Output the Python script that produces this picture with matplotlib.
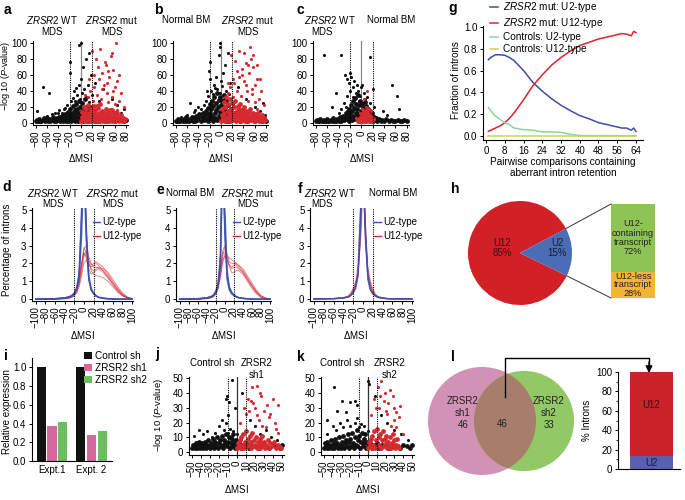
import matplotlib.pyplot as plt
import numpy as np
from matplotlib.lines import Line2D
from matplotlib.patches import Circle

# ---------------- data ----------------
# volcano plots: (delta MSI, -log10 P); *_band = the dense cloud near the x axis
a_black = [(-60, 9), (-52, 11), (-45, 13), (-38, 16), (-33, 12), (-28, 19), (-24, 23), (-18, 28), (-14, 31),
           (-10, 27), (-6, 35), (-2, 30), (2, 38), (6, 42), (10, 33), (14, 26), (-12, 40), (-4, 48), (-68, 45),
           (-57, 38), (-78, 15), (-20, 62), (-20, 76), (-3, 98), (1, 100), (4, 70), (9, 80), (15, 88), (18, 60),
           (25, 50), (40, 42), (55, 30), (65, 22), (72, 12), (77, 18), (60, 14), (48, 10), (-40, 12), (-30, 17),
           (-8, 44), (0, 55), (12, 48), (20, 35), (32, 28), (70, 8), (75, 5), (62, 6), (78, 3)]
a_black_band = [(-80, 2), (-78, 4), (-76, 2), (-74, 5), (-72, 3), (-70, 2), (-68, 4), (-66, 6), (-64, 2), (-62, 4),
                (-60, 6), (-58, 3), (-56, 5), (-54, 2), (-52, 4), (-50, 7), (-48, 3), (-46, 5), (-44, 2), (-42, 6),
                (-40, 4), (-38, 8), (-37, 2), (-35, 5), (-33, 9), (-32, 3), (-30, 6), (-28, 11), (-27, 3), (-26, 8),
                (-24, 5), (-23, 14), (-22, 2), (-21, 10), (-20, 6), (-19, 17), (-18, 3), (-17, 8), (-16, 13),
                (-15, 4), (-14, 21), (-13, 10), (-12, 6), (-11, 16), (-10, 2), (-9, 12), (-8, 24), (-7, 7),
                (-6, 18), (-5, 3), (-4, 13), (-3, 28), (-2, 8), (-1, 20), (0, 5), (1, 14), (2, 25), (3, 10), (4, 3),
                (5, 18), (6, 7), (7, 30), (8, 12), (9, 4), (10, 20), (11, 9), (12, 15), (13, 3), (14, 11), (15, 6),
                (16, 20), (18, 9), (20, 4), (22, 12), (24, 6), (26, 3), (29, 8), (33, 3), (38, 5), (45, 2), (52, 4),
                (60, 3), (68, 5), (76, 2), (80, 4)]
a_red = [(12, 32), (17, 40), (24, 45), (29, 35), (32, 55), (36, 30), (37, 62), (41, 48), (44, 72), (46, 38),
         (48, 26), (50, 58), (53, 84), (56, 33), (57, 66), (61, 45), (65, 52), (68, 28), (72, 38), (20, 90),
         (27, 80), (35, 93), (43, 76), (49, 65), (55, 88), (62, 100), (30, 70), (38, 42), (14, 55), (8, 35),
         (23, 60), (47, 50), (58, 40), (68, 60), (21, 28), (28, 22), (52, 18), (60, 24), (76, 20), (64, 16)]
a_red_band = [(1, 2), (2, 7), (3, 14), (4, 4), (5, 9), (6, 20), (7, 3), (8, 12), (9, 6), (10, 17), (11, 2), (12, 9),
              (13, 22), (14, 5), (15, 13), (16, 3), (17, 8), (18, 18), (19, 11), (20, 3), (21, 6), (22, 14),
              (23, 21), (24, 4), (25, 9), (26, 16), (27, 2), (28, 11), (29, 6), (30, 19), (31, 3), (32, 13),
              (33, 8), (34, 24), (35, 2), (36, 10), (37, 5), (38, 15), (39, 3), (40, 9), (42, 12), (43, 2),
              (44, 18), (45, 6), (46, 10), (47, 3), (48, 14), (50, 7), (51, 2), (52, 11), (54, 5), (55, 16),
              (56, 3), (58, 8), (59, 12), (60, 3), (62, 9), (64, 4), (65, 13), (66, 6), (68, 2), (69, 8), (70, 4),
              (72, 10), (73, 2), (75, 6), (77, 3), (79, 5)]

b_black = [(-60, 10), (-55, 25), (-48, 14), (-40, 20), (-35, 18), (-30, 22), (-26, 28), (-22, 34), (-18, 40),
           (-14, 36), (-10, 44), (-6, 42), (-2, 38), (2, 46), (6, 30), (10, 40), (-20, 55), (-21, 65), (-19, 76),
           (-3, 85), (-2, 95), (-1, 100), (4, 62), (8, 72), (12, 88), (-8, 58), (16, 50), (30, 45), (45, 30),
           (60, 20), (70, 15), (75, 25), (78, 10), (-70, 8), (-45, 16), (-25, 40), (-12, 48), (0, 52), (14, 36),
           (22, 24), (66, 6), (72, 4), (79, 6)]
b_black_band = [(-80, 3), (-78, 2), (-76, 5), (-74, 3), (-72, 2), (-70, 4), (-68, 3), (-66, 5), (-64, 2), (-62, 7),
                (-60, 3), (-58, 5), (-56, 2), (-54, 4), (-52, 8), (-50, 3), (-48, 6), (-46, 2), (-44, 9), (-42, 4),
                (-40, 6), (-38, 11), (-36, 3), (-34, 7), (-32, 13), (-30, 4), (-29, 9), (-27, 15), (-26, 5),
                (-24, 11), (-23, 19), (-22, 3), (-21, 8), (-20, 24), (-19, 13), (-18, 5), (-17, 17), (-16, 28),
                (-15, 9), (-14, 3), (-13, 21), (-12, 33), (-11, 12), (-10, 6), (-9, 25), (-8, 16), (-7, 37),
                (-6, 4), (-5, 20), (-4, 29), (-3, 9), (-2, 14), (-1, 32), (0, 6), (1, 22), (2, 12), (3, 27), (4, 4),
                (5, 16), (6, 35), (7, 9), (8, 20), (9, 3), (10, 28), (11, 13), (12, 7), (13, 23), (14, 3), (15, 15),
                (16, 9), (18, 18), (19, 4), (21, 10), (23, 6), (25, 13), (28, 4), (31, 8), (35, 3), (40, 6),
                (46, 3), (53, 5), (60, 2), (67, 4), (74, 3), (80, 2)]
b_red = [(12, 38), (17, 45), (24, 50), (29, 40), (32, 58), (36, 34), (37, 68), (41, 52), (44, 75), (46, 40),
         (50, 62), (53, 80), (56, 36), (57, 70), (61, 48), (65, 55), (68, 30), (72, 40), (18, 85), (25, 78),
         (33, 90), (42, 88), (52, 95), (58, 85), (48, 72), (38, 60), (28, 65), (64, 72), (70, 55), (22, 55),
         (12, 50), (45, 48), (55, 42), (21, 33), (48, 28), (60, 26), (76, 22), (64, 17)]
b_red_band = [(1, 3), (2, 10), (3, 18), (4, 5), (5, 26), (6, 12), (7, 3), (8, 20), (9, 8), (10, 33), (11, 4),
              (12, 15), (13, 24), (14, 7), (15, 12), (16, 30), (17, 3), (18, 17), (19, 9), (20, 25), (21, 4),
              (22, 13), (23, 20), (24, 6), (25, 10), (26, 28), (27, 3), (28, 15), (29, 8), (30, 21), (31, 4),
              (32, 12), (33, 18), (34, 6), (35, 24), (36, 3), (37, 10), (38, 16), (39, 5), (40, 13), (42, 20),
              (43, 3), (44, 9), (45, 15), (46, 5), (47, 11), (48, 3), (50, 14), (51, 7), (52, 18), (54, 4),
              (55, 10), (56, 6), (58, 13), (59, 3), (60, 8), (62, 11), (64, 4), (65, 7), (66, 12), (68, 3), (69, 8),
              (71, 5), (73, 10), (75, 3), (77, 6), (79, 4)]

c_black = [(-30, 25), (-25, 34), (-20, 40), (-15, 45), (-12, 52), (-8, 48), (-5, 40), (-18, 58), (-20, 62),
           (-22, 50), (0, 45), (5, 38), (10, 32), (15, 25), (22, 20), (-35, 18), (-40, 12), (-65, 85), (-36, 85),
           (-29, 60), (-25, 55), (15, 83), (20, 42), (2, 48), (54, 48), (62, 34), (66, 17), (-45, 38), (-52, 20),
           (38, 15), (45, 10), (-10, 38), (-14, 32), (-2, 34), (6, 30), (-4, 28), (-27, 20)]
c_black_band = [(-80, 2), (-78, 4), (-76, 3), (-74, 2), (-72, 5), (-70, 3), (-68, 2), (-66, 4), (-64, 3), (-62, 2),
                (-60, 5), (-58, 3), (-56, 2), (-54, 4), (-52, 3), (-50, 6), (-48, 2), (-46, 4), (-44, 3), (-42, 5),
                (-40, 2), (-38, 7), (-36, 3), (-34, 5), (-32, 9), (-30, 4), (-28, 7), (-27, 12), (-25, 5), (-24, 15),
                (-23, 9), (-22, 3), (-21, 18), (-20, 7), (-19, 12), (-18, 22), (-17, 4), (-16, 15), (-15, 27),
                (-14, 9), (-13, 19), (-12, 5), (-11, 31), (-10, 13), (-9, 24), (-8, 8), (-7, 17), (-6, 35),
                (-5, 11), (-4, 22), (-3, 4), (-2, 28), (-1, 15), (0, 8), (1, 24), (2, 12), (3, 19), (4, 5), (5, 16),
                (6, 26), (7, 9), (8, 14), (9, 21), (10, 4), (11, 12), (12, 18), (13, 7), (14, 10), (15, 15), (16, 4),
                (17, 9), (18, 12), (19, 6), (20, 3), (22, 8), (24, 4), (26, 6), (28, 3), (31, 5), (34, 2), (37, 4),
                (40, 3), (44, 5), (48, 2), (52, 4), (56, 3), (60, 2), (64, 4), (68, 3), (72, 2), (76, 4), (80, 3)]
c_red = [(5, 30), (10, 40), (-10, 6), (1, 18), (9, 20), (17, 15), (22, 5), (-3, 12)]
c_red_band = [(-6, 2), (-4, 5), (-2, 3), (0, 8), (1, 2), (2, 6), (3, 11), (4, 3), (5, 7), (6, 4), (7, 9), (8, 2),
              (9, 6), (10, 12), (11, 4), (12, 7), (13, 10), (14, 3), (15, 6), (16, 9), (17, 3), (18, 6), (19, 2),
              (20, 5), (4, 15), (8, 14), (12, 17)]

j_black = [(-48, 11), (-42, 15), (-38, 12), (-33, 14), (-28, 10), (-24, 13), (-20, 18), (-17, 22), (-14, 15),
           (-12, 20), (-10, 13), (-8, 16), (-6, 11), (-4, 14), (0, 12), (4, 10), (-12, 36), (-11, 38), (-9, 34),
           (-5, 49), (-10, 25), (6, 40), (14, 22), (20, 18), (25, 12), (32, 15), (38, 10), (44, 8), (-2, 30)]
j_black_band = [(-50, 3), (-49, 5), (-48, 4), (-47, 3), (-46, 6), (-45, 4), (-44, 3), (-43, 5), (-42, 7), (-41, 3),
                (-40, 4), (-39, 6), (-38, 3), (-37, 5), (-36, 4), (-35, 7), (-34, 3), (-33, 5), (-32, 8), (-31, 4),
                (-30, 3), (-29, 6), (-28, 4), (-27, 9), (-26, 3), (-25, 5), (-24, 7), (-23, 4), (-22, 10), (-21, 3),
                (-20, 6), (-19, 8), (-18, 4), (-17, 11), (-16, 5), (-15, 3), (-14, 8), (-13, 6), (-12, 12), (-11, 4),
                (-10, 7), (-9, 10), (-8, 3), (-7, 6), (-6, 9), (-5, 4), (-4, 12), (-3, 6), (-2, 3), (-1, 8), (0, 5),
                (2, 6), (4, 3), (6, 5), (8, 4), (10, 6), (13, 3), (16, 5), (20, 4), (24, 3), (28, 5), (32, 4),
                (36, 3), (40, 5), (44, 4), (48, 3), (50, 5)]
j_red = [(13, 28), (18, 33), (22, 25), (25, 40), (30, 28), (35, 24), (42, 20), (3, 20), (8, 30), (12, 36),
         (17, 44), (22, 45), (27, 38), (33, 32), (40, 36), (45, 32), (10, 26), (15, 35), (20, 30), (24, 22),
         (28, 18), (37, 26), (43, 16), (32, 17), (46, 13)]
j_red_band = [(0, 3), (1, 6), (2, 4), (3, 8), (4, 3), (5, 10), (6, 5), (7, 12), (8, 3), (9, 7), (10, 14), (11, 4),
              (12, 9), (13, 5), (14, 11), (15, 3), (16, 7), (17, 13), (18, 4), (19, 8), (20, 5), (21, 10), (22, 3),
              (23, 7), (24, 4), (25, 9), (26, 3), (27, 6), (28, 11), (29, 4), (30, 7), (31, 3), (32, 5), (34, 8),
              (35, 3), (37, 6), (39, 4), (41, 7), (43, 3), (45, 5), (47, 4), (49, 3)]

k_black = [(-46, 12), (-40, 18), (-36, 15), (-32, 20), (-28, 17), (-24, 22), (-20, 18), (-15, 20), (-12, 23),
           (-10, 17), (-8, 19), (-4, 18), (0, 14), (-38, 44), (-47, 22), (-35, 28), (-30, 35), (-25, 27),
           (-15, 35), (-12, 32), (-20, 34), (0, 48), (1, 46), (8, 38), (15, 25), (22, 20), (30, 15), (38, 12),
           (45, 8)]
k_black_band = [(-50, 3), (-49, 6), (-48, 4), (-47, 3), (-46, 7), (-45, 4), (-44, 3), (-43, 5), (-42, 8), (-41, 3),
                (-40, 5), (-39, 6), (-38, 3), (-37, 9), (-36, 4), (-35, 6), (-34, 3), (-33, 10), (-32, 5), (-31, 3),
                (-30, 7), (-29, 4), (-28, 11), (-27, 3), (-26, 6), (-25, 8), (-24, 4), (-23, 12), (-22, 3), (-21, 7),
                (-20, 9), (-19, 4), (-18, 13), (-17, 6), (-16, 3), (-15, 10), (-14, 5), (-13, 15), (-12, 4),
                (-11, 8), (-10, 11), (-9, 3), (-8, 7), (-7, 13), (-6, 4), (-5, 9), (-4, 6), (-3, 12), (-2, 3),
                (-1, 7), (0, 4), (2, 6), (4, 3), (6, 5), (8, 4), (10, 6), (13, 3), (16, 5), (20, 4), (24, 3), (28, 5),
                (32, 4), (36, 3), (40, 5), (44, 4), (48, 3), (50, 5)]
k_red = [(13, 30), (18, 35), (22, 26), (25, 42), (30, 30), (35, 24), (3, 25), (7, 36), (11, 44), (15, 48),
         (19, 40), (23, 33), (28, 38), (32, 27), (36, 31), (9, 30), (14, 38), (20, 28), (26, 18), (30, 22),
         (40, 12), (32, 17)]
k_red_band = [(0, 3), (1, 7), (2, 4), (3, 9), (4, 3), (5, 11), (6, 5), (7, 14), (8, 3), (9, 8), (10, 16), (11, 4),
              (12, 10), (13, 5), (14, 12), (15, 3), (16, 8), (17, 14), (18, 4), (19, 9), (20, 6), (21, 11), (22, 3),
              (23, 7), (24, 4), (25, 10), (26, 3), (27, 6), (28, 12), (29, 4), (30, 8), (31, 3), (32, 5), (33, 9),
              (34, 4), (35, 3)]

# d-f: percentage of introns per delta MSI bin, one row per replicate comparison
msi_x = [-100, -80, -60, -40, -30, -25, -20, -15, -10, -5, 0, 5, 10, 15, 20, 25, 30, 40, 50, 60, 70, 80, 90, 100]
d_red = [[0, 0, .01, .03, .08, .14, .25, .45, .9, 1.8, 2.8, 3.0, 2.4, 2.0, 1.8, 1.8, 1.75, 1.6, 1.3, .9, .5, .22, .08, .03],
         [0, 0, .01, .04, .1, .18, .3, .55, 1.0, 2.0, 2.6, 2.4, 2.0, 1.7, 1.6, 1.7, 1.8, 1.7, 1.5, 1.1, .7, .35, .12, .04],
         [0, 0, .01, .03, .07, .12, .22, .4, .8, 1.5, 2.4, 2.7, 2.2, 1.9, 2.0, 2.1, 2.0, 1.8, 1.4, 1.0, .6, .3, .1, .03],
         [0, .01, .02, .05, .1, .2, .35, .6, 1.1, 2.0, 2.9, 2.6, 2.1, 1.6, 1.4, 1.3, 1.3, 1.2, 1.0, .7, .4, .2, .08, .02],
         [0, 0, .01, .03, .06, .1, .2, .35, .7, 1.3, 2.0, 2.2, 1.9, 1.8, 1.9, 2.0, 1.9, 1.6, 1.2, .8, .45, .2, .06, .02],
         [0, 0, .02, .04, .09, .16, .28, .5, 1.0, 1.9, 2.6, 2.3, 1.7, 1.4, 1.5, 1.6, 1.7, 1.5, 1.2, .9, .55, .25, .1, .03]]
d_blue = [[0, .01, .02, .06, .12, .18, .3, .55, 1.2, 3.5, 8, 4, 1.3, .6, .35, .2, .12, .06, .03, .02, .01, 0, 0, 0],
          [0, .01, .03, .08, .15, .22, .35, .65, 1.5, 4.5, 7, 3.2, 1.1, .5, .3, .18, .1, .05, .03, .01, 0, 0, 0, 0],
          [0, .02, .03, .07, .13, .2, .32, .6, 1.3, 5, 9, 3.6, 1.2, .55, .33, .2, .11, .05, .02, .01, 0, 0, 0, 0]]
e_red = [[0, 0, .01, .04, .1, .18, .35, .7, 1.4, 2.4, 2.9, 2.5, 2.1, 2.0, 2.0, 1.9, 1.8, 1.5, 1.1, .7, .35, .12, .04, .01],
         [0, 0, .02, .05, .12, .2, .4, .8, 1.6, 2.6, 2.6, 2.2, 1.9, 1.8, 1.9, 2.0, 1.9, 1.6, 1.2, .8, .4, .15, .05, .02],
         [0, 0, .01, .03, .08, .15, .3, .6, 1.2, 2.0, 2.5, 2.4, 2.3, 2.2, 2.1, 2.0, 1.9, 1.7, 1.3, .9, .5, .2, .06, .02],
         [0, .01, .02, .05, .11, .2, .38, .75, 1.5, 2.7, 3.0, 2.4, 1.8, 1.5, 1.5, 1.6, 1.6, 1.4, 1.0, .6, .3, .1, .03, .01],
         [0, 0, .01, .04, .09, .16, .3, .6, 1.3, 2.2, 2.4, 2.1, 1.9, 1.7, 1.8, 1.8, 1.7, 1.5, 1.1, .75, .42, .18, .06, .02]]
e_blue = [[0, .01, .03, .07, .14, .22, .4, .8, 2.0, 8, 4, 1.3, .6, .35, .22, .14, .09, .05, .03, .01, 0, 0, 0, 0],
          [0, .01, .02, .06, .12, .2, .35, .7, 1.8, 7, 5, 1.6, .7, .4, .25, .15, .1, .05, .02, .01, 0, 0, 0, 0],
          [0, .02, .03, .08, .16, .25, .45, .9, 2.4, 9, 3.5, 1.1, .5, .3, .2, .12, .08, .04, .02, .01, 0, 0, 0, 0]]
f_red = [[.02, .02, .03, .06, .12, .2, .35, .7, 1.6, 3.5, 8, 3.6, 1.5, .7, .35, .2, .12, .06, .03, .02, .02, .02, .02, .02],
         [.02, .03, .04, .08, .16, .3, .55, 1.0, 1.3, 4.0, 7, 4.2, 1.4, .9, .5, .28, .15, .08, .04, .03, .02, .02, .03, .02],
         [.02, .02, .03, .07, .14, .25, .45, .9, 2.0, 5, 9, 3.0, 1.8, 1.0, .6, .3, .16, .07, .03, .02, .02, .02, .02, .02],
         [.02, .02, .04, .09, .18, .35, .6, .8, 1.5, 3.2, 6, 3.8, 1.6, .8, .4, .22, .13, .06, .04, .03, .02, .03, .02, .02]]
f_blue = [[.02, .02, .03, .06, .12, .2, .35, .6, 1.3, 4, 9, 4, 1.3, .6, .35, .2, .12, .06, .03, .02, .02, .02, .02, .02],
          [.02, .02, .03, .07, .14, .22, .4, .7, 1.5, 5, 8, 3.4, 1.1, .5, .3, .18, .1, .05, .03, .02, .02, .02, .02, .02]]

# g: fraction of introns vs number of pairwise comparisons
g_x = [1, 2, 4, 6, 8, 10, 12, 16, 20, 24, 28, 32, 36, 40, 44, 48, 52, 56, 58, 60, 62, 63, 64]
g_mut_u2 = [.70, .72, .745, .745, .74, .72, .69, .60, .49, .41, .34, .28, .23, .185, .155, .12, .10, .08, .07,
            .07, .05, .07, .04]
g_mut_u12 = [.04, .05, .07, .09, .12, .16, .21, .33, .46, .56, .65, .72, .78, .83, .86, .89, .91, .93, .94, .935,
             .92, .96, .95]
g_ctl_u2 = [.26, .23, .18, .15, .12, .10, .07, .055, .05, .035, .035, .03, .012, .002, 0, 0, 0, 0, 0, 0, 0, 0, 0]
g_ctl_u12 = [0, 0, 0, 0, 0, 0, 0, 0, 0, 0, 0, 0, 0, 0, 0, 0, 0, 0, 0, 0, 0, 0, 0]

# h: intron types
pie_labels = ['U12', 'U2']
pie_pct = [85, 15]
split_labels = ['U12-\ncontaining\ntranscript', 'U12-less\ntranscript']
split_pct = [72, 28]

# i: knockdown efficiency
expts = ['Expt.1', 'Expt. 2']
hairpins = ['Control sh', 'ZRSR2 sh1', 'ZRSR2 sh2']
rel_expr = [[1.0, 1.0], [0.375, 0.28], [0.415, 0.32]]

# l: overlap of retained introns
venn_sh1_only, venn_shared, venn_sh2_only = 46, 46, 33
shared_types = ['U2', 'U12']
shared_pct = [13, 87]

# ---------------- style ----------------
plt.rcParams['font.family'] = ['Liberation Sans', 'DejaVu Sans']
plt.rcParams['mathtext.fontset'] = 'custom'
plt.rcParams['mathtext.rm'] = 'Liberation Sans'
plt.rcParams['mathtext.it'] = 'Liberation Sans:italic'
plt.rcParams['font.size'] = 7
plt.rcParams['axes.linewidth'] = 0.8
plt.rcParams['xtick.major.size'] = 2.5
plt.rcParams['ytick.major.size'] = 2.5
plt.rcParams['xtick.major.width'] = 0.7
plt.rcParams['ytick.major.width'] = 0.7
plt.rcParams['xtick.major.pad'] = 1.5
plt.rcParams['ytick.major.pad'] = 1.5

BLK = '#111111'
RED = '#d62a30'
BLUE = '#3b4fae'
TXT = '#222222'

W, H = 685, 500
fig = plt.figure(figsize=(6.85, 5.0), dpi=100)


def box(l, t, r, b):
    return fig.add_axes([l / W, 1 - b / H, (r - l) / W, (b - t) / H])


def clean(ax):
    ax.spines['top'].set_visible(False)
    ax.spines['right'].set_visible(False)


ov = fig.add_axes([0, 0, 1, 1], zorder=10)
ov.set_xlim(0, W)
ov.set_ylim(H, 0)
ov.axis('off')


def T(x, y, s, **kw):
    kw.setdefault('ha', 'center')
    kw.setdefault('va', 'center')
    ov.text(x, y, s, **kw)


ZWT = r'$\mathit{ZRSR2}$ WT'
ZMUT = r'$\mathit{ZRSR2}$ mut'
PLAB = r'$-$log 10 ($\mathit{P}$-value)'


def volcano(rect, black, black_band, red, red_band, xl, yl, step, cut, zero_col):
    ax = box(*rect)
    clean(ax)
    layers = ((black_band, BLK, 12), (black, BLK, 5), (red_band, RED, 12), (red, RED, 5))
    for z, (pts, col, size) in enumerate(layers):
        x, y = np.array(pts, float).T
        ax.scatter(x, y, s=size, color=col, lw=0, zorder=2 + z)
    ax.axvline(0, color=zero_col, lw=0.9, zorder=1)
    for c in (-cut, cut):
        ax.axvline(c, color='k', ls=(0, (1, 1)), lw=0.8, zorder=8)
    ax.set_xlim(*xl)
    ax.set_ylim(*yl)
    lim = int(step * round(xl[1] / step))
    ax.set_xticks(np.arange(-lim, lim + 1, step))
    ax.set_yticks(np.arange(0, yl[1], step))
    ax.tick_params(axis='x', labelrotation=90)
    return ax


# a, b, c
volcano((33, 41, 128, 125), a_black, a_black_band, a_red, a_red_band, (-85, 84), (-2.5, 102.5), 20, 20, '#888888')
volcano((173, 41, 268, 125), b_black, b_black_band, b_red, b_red_band, (-85, 84), (-2.5, 102.5), 20, 20, '#888888')
volcano((313, 41, 409, 125), c_black, c_black_band, c_red, c_red_band, (-85, 84), (-2.5, 102.5), 20, 20, '#888888')
# j, k
volcano((189, 377, 284, 455), j_black, j_black_band, j_red, j_red_band, (-53.3, 52.2), (-2, 51), 10, 10, '#333333')
volcano((321, 377, 414, 455), k_black, k_black_band, k_red, k_red_band, (-53.3, 52.2), (-2, 51), 10, 10, '#333333')


def density(rect, blues, reds, leg_xy):
    ax = box(*rect)
    clean(ax)
    for c in reds:
        ax.plot(msi_x, c, color=RED, lw=0.7, alpha=0.55)
    for c in blues:
        ax.plot(msi_x, c, color=BLUE, lw=1.0, alpha=0.85)
    for c in (-20, 20):
        ax.axvline(c, color='k', ls=(0, (1, 1)), lw=0.8, zorder=4)
    ax.set_xlim(-108, 102)
    ax.set_ylim(-0.1, 5.1)
    ax.set_xticks(np.arange(-100, 101, 20))
    ax.set_yticks(range(6))
    ax.tick_params(axis='x', labelrotation=90)
    hs = [Line2D([], [], color=BLUE, lw=1), Line2D([], [], color=RED, lw=1)]
    ax.legend(hs, ['U2-type', 'U12-type'], loc='upper left',
              bbox_to_anchor=(leg_xy[0] / W, 1 - leg_xy[1] / H), bbox_transform=fig.transFigure,
              frameon=False, handlelength=0.7, handletextpad=0.3, labelspacing=0.45,
              borderpad=0, borderaxespad=0, fontsize=7)
    return ax


density((32, 208, 133, 301), d_blue, d_red, (93, 217))
density((176, 208, 271, 301), e_blue, e_red, (233, 217))
density((310, 208, 413, 301), f_blue, f_red, (374, 217))

# g
ax = box(483, 26, 643, 140)
clean(ax)
ax.plot(g_x, g_mut_u2, color='#3c4fa8', lw=1.1, label=r'$\mathit{ZRSR2}$ mut: U2-type')
ax.plot(g_x, g_mut_u12, color='#d8262c', lw=1.1, label=r'$\mathit{ZRSR2}$ mut: U12-type')
ax.plot(g_x, g_ctl_u2, color='#8fd3a0', lw=1.1, label='Controls: U2-type')
ax.plot(g_x, g_ctl_u12, color='#c9d64a', lw=1.1, label='Controls: U12-type')
ax.set_xlim(-1.3, 67)
ax.set_ylim(-0.04, 1.01)
ax.set_xticks(range(0, 65, 8))
ax.set_yticks(np.arange(0, 1.01, 0.2))
ax.yaxis.set_major_formatter('{x:.1f}')
ax.legend(loc='upper left', bbox_to_anchor=(490 / W, 1 - 0 / H), bbox_transform=fig.transFigure,
          frameon=False, handlelength=0.8, handletextpad=0.5, labelspacing=0.2,
          borderpad=0, borderaxespad=0, fontsize=7.2)

# h
axh = box(450, 190, 685, 330)
wedges, _ = axh.pie(pie_pct, colors=['#d22027', '#4a6db5'], startangle=28, center=(520, 247), radius=52,
                    wedgeprops=dict(lw=0))
axh.set_xlim(450, 685)
axh.set_ylim(170, 310)
axh.set_aspect('equal')
axh.axis('off')
axh.text(502, 252, f'{pie_labels[0]}\n{pie_pct[0]}%', ha='center', va='center', color='#3a1212',
         linespacing=1.1)
axh.text(557, 252, f'{pie_labels[1]}\n{pie_pct[1]}%', ha='center', va='center', color='#1a1a3a',
         linespacing=1.1)
bx_l, bx_w, bx_bot, bx_h = 611, 44, 202, 94
split_h = [p / 100 * bx_h for p in split_pct]
axh.bar(bx_l + bx_w / 2, split_h[1], bx_w, bottom=bx_bot, color='#f2b632', lw=0)
axh.bar(bx_l + bx_w / 2, split_h[0], bx_w, bottom=bx_bot + split_h[1], color='#8dc454', lw=0)
axh.text(bx_l + bx_w / 2, bx_bot + split_h[1] + split_h[0] / 2, f'{split_labels[0]}\n{split_pct[0]}%',
         ha='center', va='center', color=TXT, linespacing=1.05, fontsize=6.6)
axh.text(bx_l + bx_w / 2, bx_bot + split_h[1] / 2, f'{split_labels[1]}\n{split_pct[1]}%',
         ha='center', va='center', color=TXT, linespacing=0.95, fontsize=6.6)
u2 = wedges[1]
for ang, yb in ((u2.theta2, bx_bot + bx_h), (u2.theta1, bx_bot)):
    px = 520 + 52 * np.cos(np.radians(ang))
    py = 247 + 52 * np.sin(np.radians(ang))
    axh.plot([px, bx_l], [py, yb], color='#333333', lw=0.7)

# i
ax = box(32, 358, 112, 461)
clean(ax)
cols = [BLK, '#d6689d', '#6cbf5f']
for k, (name, vals) in enumerate(zip(hairpins, rel_expr)):
    ax.bar(np.arange(len(expts)) + (k - 1) * 0.28, vals, 0.23, color=cols[k], label=name)
ax.set_xlim(-0.51, 1.53)
ax.set_ylim(0, 1.1)
ax.set_xticks(range(len(expts)))
ax.set_xticklabels(expts)
ax.tick_params(axis='x', length=0, pad=3)
ax.set_yticks(np.arange(0, 1.01, 0.2))
ax.yaxis.set_major_formatter('{x:.1f}')
ax.legend(loc='upper left', bbox_to_anchor=(84 / W, 1 - 351 / H), bbox_transform=fig.transFigure,
          frameon=False, handlelength=0.8, handleheight=0.8, handletextpad=0.3, labelspacing=0.2,
          borderpad=0, borderaxespad=0, fontsize=7.2)

# l: venn
k_r = 54 / np.sqrt(venn_sh1_only + venn_shared)
r1 = k_r * np.sqrt(venn_sh1_only + venn_shared)
r2 = k_r * np.sqrt(venn_sh2_only + venn_shared)
c1 = Circle((482, 421), r1, color='#d192b5', lw=0)
c2 = Circle((524, 421), r2, color='#93c866', lw=0)
ov.add_patch(c1)
ov.add_patch(c2)
c3 = Circle((524, 421), r2, color='#a77d6c', lw=0)
ov.add_patch(c3)
c3.set_clip_path(c1)
T(463, 413, f'ZRSR2\nsh1\n{venn_sh1_only}', color=TXT, linespacing=1.25)
T(502, 424, f'{venn_shared}', color=TXT)
T(549, 413, f'ZRSR2\nsh2\n{venn_sh2_only}', color=TXT, linespacing=1.25)
ov.plot([505, 505, 649, 649], [397, 358, 358, 364], color='k', lw=1)
ov.annotate('', xy=(649, 373), xytext=(649, 362),
            arrowprops=dict(arrowstyle='-|>', color='k', lw=1, mutation_scale=10, shrinkA=0, shrinkB=0))

ax = box(618, 372, 680, 469)
clean(ax)
ax.bar(0.54, shared_pct[0], 0.69, color='#5a60b0', lw=0)
ax.bar(0.54, shared_pct[1], 0.69, bottom=shared_pct[0], color='#cc2229', lw=0)
ax.text(0.54, 66, shared_types[1], ha='center', va='center', color='#3a1010')
ax.text(0.54, 6, shared_types[0], ha='center', va='center', color='#1a1a3a')
ax.set_xlim(0, 1)
ax.set_ylim(0, 100)
ax.set_xticks([])
ax.set_yticks(range(0, 101, 20))
ax.set_yticks(range(10, 100, 20), minor=True)
ax.tick_params(axis='y', which='minor', length=1.5, width=0.6)
ax.set_ylabel('% Introns', labelpad=3)

# titles and axis labels
T(52, 20, ZWT); T(52, 32, 'MDS'); T(112, 20, ZMUT); T(112, 32, 'MDS')
T(186, 20, 'Normal BM'); T(248, 20, ZMUT); T(248, 32, 'MDS')
T(330, 20, ZWT); T(322, 32, 'MDS'); T(391, 20, 'Normal BM')
T(53, 193, ZWT); T(53, 204, 'MDS'); T(113, 193, ZMUT); T(113, 204, 'MDS')
T(190, 193, 'Normal BM'); T(248, 193, ZMUT); T(248, 204, 'MDS')
T(330, 193, ZWT); T(322, 204, 'MDS'); T(393, 193, 'Normal BM')
T(212, 363, 'Control sh'); T(257, 363, 'ZRSR2'); T(257, 375, 'sh1')
T(342, 363, 'Control sh'); T(390, 363, 'ZRSR2'); T(390, 375, 'sh2')

for x, y in ((80, 158), (220, 158), (361, 158), (82, 335), (223, 335), (355, 335), (236, 489), (367, 489)):
    T(x, y, r'$\Delta$MSI')
T(563, 162, 'Pairwise comparisons containing', fontsize=7.2)
T(563, 173, 'aberrant intron retention', fontsize=7.2)

T(6, 76, PLAB, rotation=90, fontsize=6.5)
T(7, 250, 'Percentage of introns', rotation=90)
T(456, 80, 'Fraction of introns', rotation=90)
T(7, 412, 'Relative expression', rotation=90)
T(159, 415, PLAB, rotation=90, fontsize=6.8)

for s, x, y in (('a', 7, 10), ('b', 158, 10), ('c', 300, 10), ('g', 453, 8), ('d', 7, 187), ('e', 160, 190),
                ('f', 300, 189), ('h', 455, 189), ('i', 6, 356), ('j', 157, 354), ('k', 301, 357),
                ('l', 453, 357)):
    T(x, y, s, fontsize=10, fontweight='bold')

fig.savefig('out.png', dpi=100)
